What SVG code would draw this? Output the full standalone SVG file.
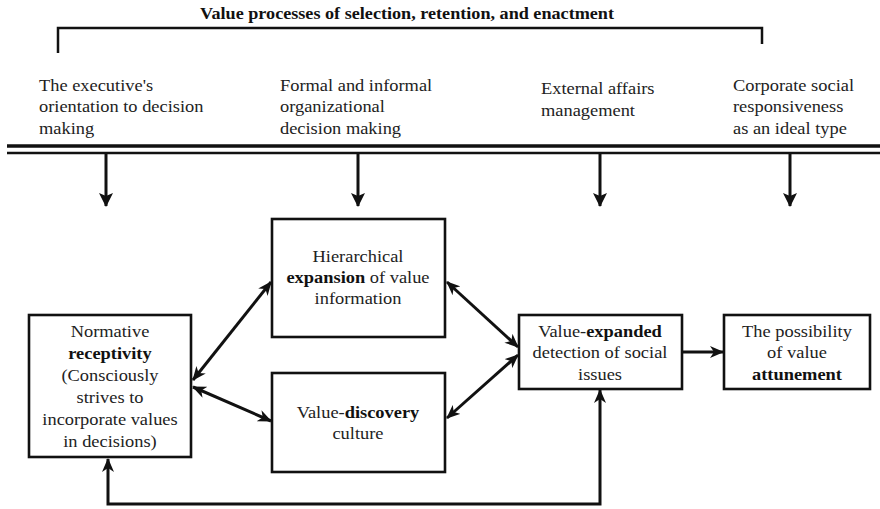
<svg xmlns="http://www.w3.org/2000/svg" width="880" height="509" viewBox="0 0 880 509">
  <style>
    .t { font-family: "Liberation Serif", "Times New Roman", serif; font-size: 16px; fill: #222; }
    .c { text-anchor: middle; }
    .b { font-weight: bold; fill: #111; }
    .box { fill: #fff; stroke: #111; stroke-width: 2.6; }
    .ln { fill: none; stroke: #111; stroke-width: 3; }
  </style>
  <defs>
    <marker id="ah" viewBox="0 0 14 12" markerUnits="userSpaceOnUse" markerWidth="14" markerHeight="12" refX="13" refY="6" orient="auto-start-reverse">
      <path d="M0,0 L14,6 L0,12 L4,6 z" fill="#111"/>
    </marker>
    <marker id="dh" viewBox="0 0 14 14" markerUnits="userSpaceOnUse" markerWidth="14" markerHeight="14" refX="13" refY="7" orient="auto">
      <path d="M0,0 L14,7 L0,14 L3,7 z" fill="#111"/>
    </marker>
  </defs>

  <!-- heading with bracket -->
  <g id="heading">
    <text class="t b" x="200" y="19" textLength="414" lengthAdjust="spacingAndGlyphs">Value processes of selection, retention, and enactment</text>
    <path d="M58,53 V28 H762 V44" fill="none" stroke="#111" stroke-width="2.5"/>
  </g>

  <!-- column headings (text widened 15% about its left edge) -->
  <g id="col-executive" transform="matrix(1.15,0,0,1,-5.85,0)">
    <text class="t" x="39" y="91">The executive's</text>
    <text class="t" x="39" y="112">orientation to decision</text>
    <text class="t" x="39" y="134">making</text>
  </g>
  <g id="col-formal" transform="matrix(1.15,0,0,1,-42,0)">
    <text class="t" x="280" y="91">Formal and informal</text>
    <text class="t" x="280" y="112">organizational</text>
    <text class="t" x="280" y="134">decision making</text>
  </g>
  <g id="col-external" transform="matrix(1.15,0,0,1,-81.15,0)">
    <text class="t" x="541" y="94">External affairs</text>
    <text class="t" x="541" y="116">management</text>
  </g>
  <g id="col-csr" transform="matrix(1.15,0,0,1,-109.95,0)">
    <text class="t" x="733" y="91">Corporate social</text>
    <text class="t" x="733" y="112">responsiveness</text>
    <text class="t" x="733" y="134">as an ideal type</text>
  </g>

  <!-- double rule -->
  <g id="rule">
    <line x1="7" y1="146" x2="880" y2="146" stroke="#111" stroke-width="3.5"/>
    <line x1="7" y1="153" x2="880" y2="153" stroke="#111" stroke-width="2.5"/>
  </g>

  <!-- nodes (labels widened 15% about the box centre) -->
  <g id="node-normative">
    <rect class="box" x="29" y="315" width="162" height="142"/>
    <g transform="matrix(1.15,0,0,1,-16.5,0)">
      <text class="t c" x="110" y="337">Normative</text>
      <text class="t c b" x="110" y="359">receptivity</text>
      <text class="t c" x="110" y="381">(Consciously</text>
      <text class="t c" x="110" y="403">strives to</text>
      <text class="t c" x="110" y="425">incorporate values</text>
      <text class="t c" x="110" y="447">in decisions)</text>
    </g>
  </g>
  <g id="node-hierarchical">
    <rect class="box" x="272" y="219" width="173" height="118"/>
    <g transform="matrix(1.15,0,0,1,-53.7,0)">
      <text class="t c" x="358" y="262">Hierarchical</text>
      <text class="t c" x="358" y="283"><tspan class="b">expansion</tspan> of value</text>
      <text class="t c" x="358" y="304">information</text>
    </g>
  </g>
  <g id="node-discovery">
    <rect class="box" x="272" y="373" width="173" height="99"/>
    <g transform="matrix(1.15,0,0,1,-53.7,0)">
      <text class="t c" x="358" y="418">Value-<tspan class="b">discovery</tspan></text>
      <text class="t c" x="358" y="439">culture</text>
    </g>
  </g>
  <g id="node-expanded">
    <rect class="box" x="519" y="315" width="163" height="74"/>
    <g transform="matrix(1.15,0,0,1,-90,0)">
      <text class="t c" x="600" y="337">Value-<tspan class="b">expanded</tspan></text>
      <text class="t c" x="600" y="358">detection of social</text>
      <text class="t c" x="600" y="380">issues</text>
    </g>
  </g>
  <g id="node-attunement">
    <rect class="box" x="724" y="315" width="146" height="74"/>
    <g transform="matrix(1.15,0,0,1,-119.55,0)">
      <text class="t c" x="797" y="337">The possibility</text>
      <text class="t c" x="797" y="358">of value</text>
      <text class="t c b" x="797" y="380">attunement</text>
    </g>
  </g>

  <!-- connectors -->
  <g id="connectors">
    <line class="ln" x1="106" y1="154" x2="106" y2="206" stroke-width="2.5" marker-end="url(#dh)"/>
    <line class="ln" x1="358" y1="154" x2="358" y2="206" stroke-width="2.5" marker-end="url(#dh)"/>
    <line class="ln" x1="600" y1="154" x2="600" y2="206" stroke-width="2.5" marker-end="url(#dh)"/>
    <line class="ln" x1="790" y1="154" x2="790" y2="206" stroke-width="2.5" marker-end="url(#dh)"/>

    <line class="ln" x1="193" y1="380" x2="271" y2="282" marker-start="url(#ah)" marker-end="url(#ah)"/>
    <line class="ln" x1="193" y1="387" x2="271" y2="421" marker-start="url(#ah)" marker-end="url(#ah)"/>
    <line class="ln" x1="447" y1="282" x2="518" y2="347" marker-start="url(#ah)" marker-end="url(#ah)"/>
    <line class="ln" x1="447" y1="418" x2="518" y2="355" marker-start="url(#ah)" marker-end="url(#ah)"/>
    <line class="ln" x1="682" y1="352" x2="723" y2="352" stroke-width="4" marker-end="url(#ah)"/>
    <path class="ln" d="M108,459 V504 H600 V390" marker-start="url(#ah)" marker-end="url(#ah)"/>
  </g>
</svg>
